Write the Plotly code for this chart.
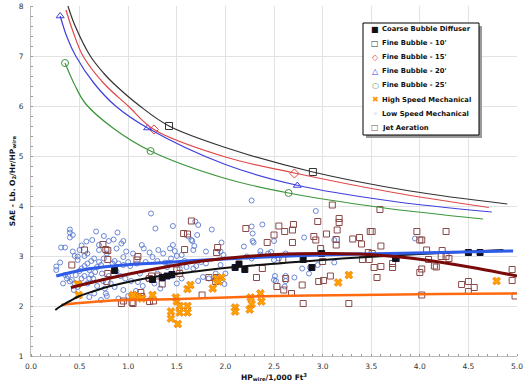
import plotly.graph_objects as go

# ---------------- data ----------------
# Fine bubble trend curves
fb10_x = [0.38, 0.45, 0.61, 0.75, 0.85, 1.12, 1.42, 2.0, 2.9, 3.9, 4.9]
fb10_y = [8.0, 7.62, 7.0, 6.65, 6.45, 6.0, 5.6, 5.17, 4.68, 4.3, 4.04]
fb15_x = [0.36, 0.43, 0.535, 0.75, 1.0, 1.265, 2.0, 2.71, 3.7, 4.71]
fb15_y = [7.92, 7.5, 7.0, 6.45, 6.0, 5.53, 4.98, 4.66, 4.28, 3.97]
fb20_x = [0.30, 0.37, 0.46, 0.65, 0.87, 1.2, 2.0, 2.75, 3.7, 4.74]
fb20_y = [7.8, 7.38, 7.0, 6.45, 6.0, 5.56, 4.83, 4.41, 4.1, 3.88]
fb25_x = [0.35, 0.45, 0.56, 0.85, 1.23, 2.0, 2.65, 3.6, 4.65]
fb25_y = [6.86, 6.42, 6.05, 5.55, 5.1, 4.55, 4.26, 3.97, 3.74]

# Fine bubble measured points
fb10_px = [1.42, 2.9]
fb10_py = [5.6, 4.68]
fb15_px = [1.265, 2.71]
fb15_py = [5.53, 4.65]
fb20_px = [0.30, 1.2, 2.74]
fb20_py = [7.8, 5.56, 4.41]
fb25_px = [0.35, 1.23, 2.65]
fb25_py = [6.86, 5.1, 4.26]

# Coarse bubble diffuser
cb_x = [0.86, 1.25, 1.35, 1.40, 1.45, 2.10, 2.14, 2.20, 2.80, 2.89, 2.99, 3.75, 4.50, 4.62]
cb_y = [2.71, 2.53, 2.57, 2.60, 2.63, 2.77, 2.84, 2.73, 2.93, 2.77, 3.05, 2.95, 3.07, 3.07]

# High speed mechanical
hs_x = [0.48, 0.49, 1.04, 1.07, 1.10, 1.14, 1.05, 1.25, 1.61, 1.64, 1.49, 1.50, 1.44, 1.44,
        1.53, 1.53, 1.61, 1.61, 1.51, 1.87, 1.91, 1.96, 1.93, 2.10, 2.10, 2.26, 2.27, 2.25,
        2.36, 2.37, 3.27, 3.16, 4.79]
hs_y = [2.44, 2.22, 2.18, 2.20, 2.18, 2.15, 2.22, 2.22, 2.34, 2.42, 2.17, 2.09, 1.89, 1.75,
        2.00, 1.87, 2.00, 1.87, 1.64, 2.35, 2.55, 2.57, 2.49, 1.97, 1.89, 2.17, 2.04, 1.93,
        2.25, 2.09, 2.62, 2.47, 2.50]

# Low speed mechanical
ls_x = [0.26, 0.26, 0.30, 0.31, 0.35, 0.40, 0.40, 0.43, 0.40, 0.43, 0.48, 0.48, 0.45, 0.52,
        0.57, 0.63, 0.67, 0.70, 0.70, 0.37, 0.40, 0.42, 0.38, 0.45, 0.46, 0.50, 0.52, 0.55,
        0.58, 0.60, 0.62, 0.64, 0.66, 0.68, 0.70, 0.72, 0.73, 0.74, 0.76, 0.77, 0.60, 0.55,
        0.58, 0.62, 0.65, 0.58, 0.55, 0.52, 0.50, 0.48, 0.44, 0.60, 0.65, 0.68, 0.72, 0.78,
        0.80, 0.82, 0.84, 0.86, 0.88, 0.85, 0.89, 0.93, 0.95, 0.88, 0.98, 1.14, 1.16, 1.22,
        1.31, 1.36, 1.43, 1.46, 1.48, 1.50, 1.44, 1.55, 1.62, 1.65, 0.90, 0.95, 1.00, 1.02,
        1.09, 1.18, 1.30, 1.38, 1.42, 1.53, 1.60, 1.67, 0.92, 0.97, 1.03, 1.10, 1.15, 1.08,
        1.20, 1.27, 1.35, 1.45, 1.50, 0.95, 0.86, 0.90, 1.00, 1.235, 1.28, 1.46, 0.78, 0.75,
        0.80, 1.05, 1.25, 1.40, 1.55, 1.58, 0.35, 0.33, 0.50, 0.75, 0.95, 1.12, 1.30, 1.33,
        1.69, 1.72, 1.71, 1.66, 1.86, 1.96, 1.68, 1.67, 1.80, 1.95, 1.98, 2.27, 2.38, 2.28,
        2.28, 2.29, 2.19, 2.36, 2.36, 2.44, 2.47, 2.22, 2.27, 2.50, 1.75, 1.80, 1.70, 1.95,
        1.90, 2.00, 1.77, 1.83, 1.72, 1.99, 2.51, 2.52, 2.27, 2.93, 2.81, 3.12, 2.95, 2.87,
        2.79, 2.86, 2.71, 2.62, 2.62, 2.50, 2.61, 3.12, 2.55, 3.95, 2.50, 2.62]
ls_y = [2.79, 2.72, 2.87, 3.17, 3.17, 3.53, 3.47, 3.42, 3.37, 3.09, 2.99, 2.92, 3.00, 3.21,
        3.29, 3.32, 3.49, 3.12, 3.22, 2.55, 2.49, 2.52, 2.60, 2.45, 2.62, 2.70, 2.75, 2.80,
        2.85, 2.72, 2.62, 2.55, 2.68, 2.78, 2.88, 2.82, 2.65, 2.50, 2.35, 2.25, 2.55, 2.60,
        2.45, 2.90, 2.95, 3.05, 3.00, 2.55, 2.45, 2.38, 2.32, 2.18, 2.25, 2.40, 2.12, 2.20,
        2.60, 2.45, 2.85, 2.90, 2.69, 3.33, 3.47, 3.25, 3.30, 3.15, 3.09, 3.22, 3.15, 3.07,
        3.12, 3.05, 3.15, 3.22, 3.10, 3.00, 2.95, 3.02, 3.39, 3.32, 2.85, 2.82, 2.88, 2.80,
        2.85, 2.88, 2.90, 2.87, 2.87, 2.75, 2.78, 2.75, 2.60, 2.55, 2.50, 2.48, 2.40, 2.30,
        2.55, 2.45, 2.55, 2.60, 2.45, 2.32, 2.38, 2.15, 2.20, 3.85, 3.55, 3.60, 3.05, 2.95,
        3.30, 3.05, 2.98, 2.78, 2.55, 2.90, 2.62, 2.45, 3.12, 3.40, 2.98, 2.65, 2.65, 2.35,
        3.69, 3.62, 3.42, 3.30, 3.53, 3.27, 3.20, 3.12, 3.09, 3.09, 3.02, 3.59, 3.63, 3.45,
        3.30, 3.27, 3.19, 3.10, 3.03, 3.05, 3.08, 2.99, 2.95, 2.92, 2.88, 2.85, 2.80, 2.82,
        2.65, 2.65, 2.58, 2.55, 2.50, 2.44, 2.60, 2.50, 4.11, 3.90, 3.37, 3.32, 2.82, 2.77,
        2.75, 2.65, 2.57, 2.60, 2.50, 2.52, 2.39, 2.87, 2.95, 3.35, 3.30, 3.05]

# Jet aeration
ja_x = [0.42, 0.55, 0.74, 0.77, 0.79, 0.79, 0.79, 0.78, 1.09, 1.10, 1.22, 1.24, 1.35, 1.04,
        0.95, 0.93, 1.05, 1.13, 1.14, 1.26, 1.22, 1.50, 1.53, 1.31, 1.65, 1.57, 1.61, 1.58,
        2.21, 2.43, 2.50, 1.92, 1.91, 1.83, 1.91, 1.90, 2.32, 2.38, 1.76,
        3.10, 3.17, 3.17, 2.95, 2.55, 2.70, 2.69, 2.61, 3.04, 3.15, 3.14, 3.14, 3.31, 2.69,
        2.91, 2.93, 2.98, 2.59, 3.00, 2.62, 2.60, 2.53, 2.68, 2.79, 2.96, 3.01, 3.08, 3.27,
        2.80, 3.59, 3.49, 3.51, 3.38, 3.40, 3.60, 3.47, 3.51, 3.41, 3.48, 3.53, 3.60, 3.56,
        3.72, 3.72, 3.76, 3.97, 4.00, 4.02, 4.07, 4.09, 4.15, 4.17, 4.00, 4.02, 4.02, 4.27,
        4.23, 4.22, 4.27, 4.30, 4.43, 4.50, 4.56, 4.50, 4.95, 4.95, 4.98]
ja_y = [2.82, 3.12, 3.23, 3.13, 3.11, 2.93, 2.65, 2.49, 2.92, 2.99, 2.55, 2.60, 2.44, 2.07,
        2.10, 2.05, 2.05, 2.27, 2.19, 2.10, 2.09, 2.72, 2.65, 2.60, 3.70, 3.45, 3.44, 3.13,
        3.55, 3.27, 3.42, 3.17, 3.07, 2.57, 2.57, 2.49, 2.57, 2.75, 2.22,
        4.02, 3.75, 3.67, 3.69, 3.60, 3.63, 3.52, 3.49, 3.44, 3.52, 3.33, 3.22, 3.34, 3.27,
        3.39, 3.32, 3.15, 2.93, 2.89, 2.55, 2.32, 2.39, 2.25, 2.42, 2.49, 2.51, 2.60, 2.05,
        2.05, 3.93, 3.49, 3.49, 3.37, 3.24, 3.20, 3.07, 3.05, 2.93, 2.93, 2.77, 2.79, 2.57,
        2.77, 2.85, 2.95, 3.49, 3.32, 3.32, 3.12, 2.93, 2.80, 2.78, 2.67, 2.74, 2.22, 3.49,
        3.11, 2.99, 2.99, 2.95, 2.43, 2.49, 2.37, 2.29, 2.73, 2.51, 2.20]

# Trend lines
cbt_x = [0.25, 0.30, 0.40, 0.50, 0.65, 0.80, 1.00, 1.30, 1.69, 2.10, 2.60, 3.20, 4.00, 4.86]
cbt_y = [1.92, 1.99, 2.10, 2.20, 2.30, 2.39, 2.48, 2.59, 2.69, 2.78, 2.86, 2.95, 3.04, 3.12]
lst_x = [0.26, 0.50, 0.84, 1.30, 1.69, 2.53, 3.38, 4.20, 4.96]
lst_y = [2.60, 2.71, 2.80, 2.86, 2.91, 2.99, 3.04, 3.07, 3.10]
jat_x = [0.41, 0.84, 1.30, 1.69, 2.10, 2.53, 3.00, 3.38, 3.74, 4.20, 4.60, 5.00]
jat_y = [2.37, 2.57, 2.75, 2.88, 2.97, 3.03, 3.05, 3.04, 2.99, 2.88, 2.75, 2.60]
hst_x = [0.31, 0.50, 0.84, 1.30, 1.69, 2.53, 3.38, 4.20, 5.00]
hst_y = [2.02, 2.06, 2.11, 2.13, 2.15, 2.20, 2.22, 2.24, 2.25]

x_ticks = [0.0, 0.5, 1.0, 1.5, 2.0, 2.5, 3.0, 3.5, 4.0, 4.5, 5.0]
y_ticks = [1, 2, 3, 4, 5, 6, 7, 8]

# legend entries: (name, glyph, glyph colour)
legend_names = ["Coarse Bubble Diffuser", "Fine Bubble - 10'", "Fine Bubble - 15'",
                "Fine Bubble - 20'", "Fine Bubble - 25'", "High Speed Mechanical",
                "Low Speed Mechanical", "Jet Aeration"]
legend_glyphs = ["■", "□", "◇", "△", "○", "✖", "◦", "□"]
legend_colors = ["#111111", "#333333", "#E04848", "#4040DD", "#3C963C", "#FF9A00",
                 "#5A7BD0", "#8A4A4A"]

# ---------------- figure ----------------
FONT = "DejaVu Sans"
W, H = 528, 387
ML, MR, MT, MB = 31, 11, 6, 31
PW, PH = W - ML - MR, H - MT - MB


def px2paper(px, py):
    return (px - ML) / PW, 1 - (py - MT) / PH


fig = go.Figure()

series = [
    (cb_x, cb_y, legend_names[0], dict(symbol="square", size=6, color="#111111",
                                        line=dict(color="#111133", width=1))),
    (fb10_px, fb10_py, legend_names[1], dict(symbol="square-open", size=7, color="#333333",
                                              line=dict(width=1))),
    (fb15_px, fb15_py, legend_names[2], dict(symbol="diamond-open", size=7, color="#E04848",
                                              line=dict(width=1))),
    (fb20_px, fb20_py, legend_names[3], dict(symbol="triangle-up-open", size=7,
                                              color="#4040DD", line=dict(width=1))),
    (fb25_px, fb25_py, legend_names[4], dict(symbol="circle-open", size=7, color="#3C963C",
                                              line=dict(width=1))),
    (hs_x, hs_y, legend_names[5], dict(symbol="x", size=7, color="#FFA200",
                                        line=dict(color="#E86A00", width=0.6))),
    (ls_x, ls_y, legend_names[6], dict(symbol="circle-open", size=5, color="#5A7BD0",
                                        line=dict(width=0.9))),
    (ja_x, ja_y, legend_names[7], dict(symbol="square-open", size=6, color="#8A4A4A",
                                        line=dict(width=1))),
]
# draw clouds first, then the fine-bubble markers on top
draw_order = [6, 7, 5, 0, 1, 2, 3, 4]
for i in draw_order:
    sx, sy, nm, mk = series[i]
    fig.add_trace(go.Scatter(x=sx, y=sy, mode="markers", name=nm, marker=mk,
                             showlegend=False))

# fine bubble curves
for cx, cy, col in [(fb10_x, fb10_y, "#333333"), (fb15_x, fb15_y, "#E04848"),
                    (fb20_x, fb20_y, "#4040DD"), (fb25_x, fb25_y, "#3C963C")]:
    fig.add_trace(go.Scatter(x=cx, y=cy, mode="lines", showlegend=False, hoverinfo="skip",
                             line=dict(color=col, width=1.2, shape="spline")))

# trend lines
for cx, cy, col, w in [(hst_x, hst_y, "#FF6A10", 2.5), (cbt_x, cbt_y, "#111111", 2),
                       (lst_x, lst_y, "#2E5BE8", 3), (jat_x, jat_y, "#7A0A0A", 3)]:
    fig.add_trace(go.Scatter(x=cx, y=cy, mode="lines", showlegend=False, hoverinfo="skip",
                             line=dict(color=col, width=w, shape="spline")))

# legend box (with drop shadow) built from shapes + text annotations
x0, y1 = px2paper(363, 23)
x1, y0 = px2paper(479, 135)
sx0, sy1 = px2paper(366, 26)
sx1, sy0 = px2paper(482, 138)
shapes = [
    dict(type="rect", xref="paper", yref="paper", x0=sx0, x1=sx1, y0=sy0, y1=sy1,
         fillcolor="#9A9A9A", line=dict(width=0), layer="above"),
    dict(type="rect", xref="paper", yref="paper", x0=x0, x1=x1, y0=y0, y1=y1,
         fillcolor="white", line=dict(color="black", width=1), layer="above"),
]
annotations = []
for k, (nm, gl, gc) in enumerate(zip(legend_names, legend_glyphs, legend_colors)):
    cy = 29.3 + k * 14.05
    gx, gy = px2paper(375, cy)
    tx, _ = px2paper(380, cy)
    annotations.append(dict(xref="paper", yref="paper", x=gx, y=gy, text=gl,
                            showarrow=False, xanchor="center", yanchor="middle",
                            font=dict(family=FONT, size=8, color=gc)))
    annotations.append(dict(xref="paper", yref="paper", x=tx, y=gy, text=nm,
                            showarrow=False, xanchor="left", yanchor="middle",
                            font=dict(family=FONT, size=6.8, color="#111111",
                                      weight="bold")))

fig.update_layout(
    width=W, height=H,
    margin=dict(l=ML, r=MR, t=MT, b=MB),
    paper_bgcolor="white", plot_bgcolor="white",
    font=dict(family=FONT, size=7.5, color="#333333"),
    showlegend=False, hovermode=False,
    shapes=shapes, annotations=annotations,
)
fig.update_xaxes(
    range=[0, 5], tickvals=x_ticks, ticktext=[f"{v:.1f}" for v in x_ticks],
    automargin=False,
    showgrid=True, gridcolor="#E2E2E2", gridwidth=1,
    showline=True, linecolor="#BBBBBB", linewidth=1, zeroline=False,
    ticks="", tickfont=dict(size=7.5, color="#333333"), ticklabelstandoff=3,
    minor=dict(dtick=0.1, ticks="inside", ticklen=2, tickcolor="#999999", showgrid=False),
    title=dict(text="HP<sub>wire</sub>/1,000 Ft<sup>3</sup>", standoff=4,
               font=dict(size=7.5, color="#111111", weight="bold")),
)
fig.update_yaxes(
    range=[1, 8], tickvals=y_ticks,
    automargin=False,
    showgrid=True, gridcolor="#E2E2E2", gridwidth=1,
    showline=True, linecolor="#BBBBBB", linewidth=1, zeroline=False,
    ticks="", tickfont=dict(size=7.5, color="#333333"), ticklabelstandoff=5,
    minor=dict(dtick=0.2, ticks="inside", ticklen=2, tickcolor="#999999", showgrid=False),
    title=dict(text="SAE - Lb. O<sub>2</sub>/Hr/HP<sub>wire</sub>", standoff=2,
               font=dict(size=7.5, color="#111111", weight="bold")),
)

# the page's default 8px body margin would shift the figure; remove it
fig.write_html("out.html", config={"displayModeBar": False},
               post_script="document.body.style.margin='0';document.body.style.padding='0';")
